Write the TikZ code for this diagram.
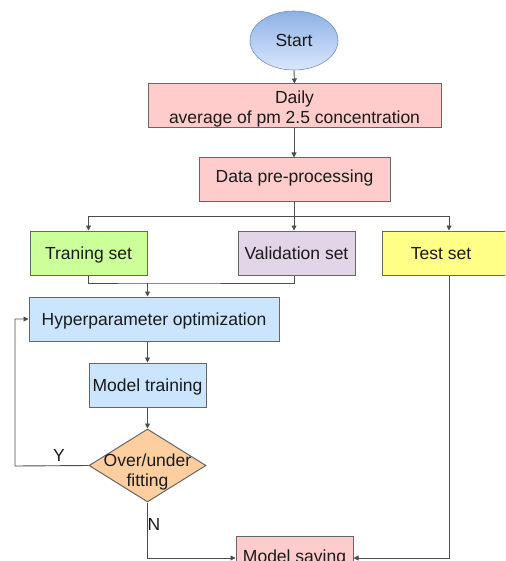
\documentclass[tikz,border=0pt]{standalone}
\usepackage{fontspec}
\setmainfont{Liberation Sans}
\usetikzlibrary{shapes.geometric,arrows.meta}
\definecolor{txt}{HTML}{1A1A1A}
\definecolor{edge}{HTML}{666666}
\definecolor{conn}{HTML}{4D4D4D}
\definecolor{pinkf}{HTML}{FFCCCC}
\definecolor{greenf}{HTML}{CCFF99}
\definecolor{violf}{HTML}{E1D5E7}
\definecolor{yellf}{HTML}{FFFF88}
\definecolor{bluef}{HTML}{CCE5FF}
\definecolor{orf}{HTML}{FFCE9F}
\definecolor{stTop}{HTML}{8DB1E6}
\definecolor{stBot}{HTML}{DAE8FC}
\tikzset{
  x=1pt,y=-1pt,
  lbl/.style={font=\fontsize{17.5}{20.5}\selectfont, text=txt, align=center, inner sep=0pt},
  boxn/.style={lbl, draw=edge, line width=1pt, rectangle},
  one/.style={text height=13pt, text depth=0pt},
  line/.style={draw=conn, line width=0.9pt},
  arr/.style={line, -{Triangle[length=5pt,width=5pt]}},
}
\begin{document}
\begin{tikzpicture}
\useasboundingbox (0,0) rectangle (505,561);
\clip (0,0) rectangle (505,561);
\node[lbl, ellipse, draw=stTop!80!black, line width=0.6pt, top color=stTop, bottom color=stBot, minimum width=88, minimum height=59] (start) at (294,40.5) {Start};
\node[boxn, fill=pinkf, minimum width=293, minimum height=44] (daily) at (294.5,106) {};
\node[lbl] (dailytxt) at (294.5,109) {Daily\\average of pm 2.5 concentration};
\node[boxn, one, text depth=7pt, fill=pinkf, minimum width=191, minimum height=43] (prep) at (294.5,179.5) {Data pre-processing};
\node[boxn, one, fill=greenf, minimum width=117, minimum height=44] (train) at (88.5,253) {Traning set};
\node[boxn, one, fill=violf, minimum width=117, minimum height=44] (val) at (296.5,253) {Validation set};
\node[boxn, fill=yellf, minimum width=134, minimum height=44] (test) at (449,253) {};
\node[lbl, one] (testtxt) at (441,253) {Test set};
\node[boxn, one, fill=bluef, minimum width=250, minimum height=44] (hyp) at (154,319) {Hyperparameter optimization};
\node[boxn, one, fill=bluef, minimum width=117, minimum height=44] (mt) at (147.5,385) {Model training};
\node[diamond, draw=edge, line width=1pt, fill=orf, inner sep=0pt, minimum width=117, minimum height=73] (fit) at (147.5,465.5) {};
\node[lbl] (fittxt) at (147.5,472) {Over/under\\fitting};
\node[boxn, fill=pinkf, minimum width=117, minimum height=44] (save) at (294.5,558) {Model saving};
\coordinate (br) at (294,216);
\coordinate (mg) at (147.5,283);
\coordinate (lp) at (15,466);
\draw[arr] (start.south) -- (daily.north);
\draw[arr] (daily.south -| start.south) -- (prep.north -| start.south);
\draw[line] (prep.south -| br) -- (br);
\draw[arr] (br) -| (train.north);
\draw[arr] (br) -- (val.north -| br);
\draw[arr] (br) -| (test.north);
\draw[line] (train.south) |- (mg) -| (val.south -| br);
\draw[arr] (mg) -- (hyp.north -| mg);
\draw[arr] (hyp.south -| mt.north) -- (mt.north);
\draw[arr] (mt.south) -- (fit.north);
\draw[arr] (fit.west) -- (lp) |- (hyp.west);
\draw[arr] (fit.south) |- (save.west);
\draw[arr] (test.south) |- (save.east);
\node[lbl] (ylab) at (59,455) {Y};
\node[lbl] (nlab) at (154,524) {N};
\end{tikzpicture}
\end{document}
